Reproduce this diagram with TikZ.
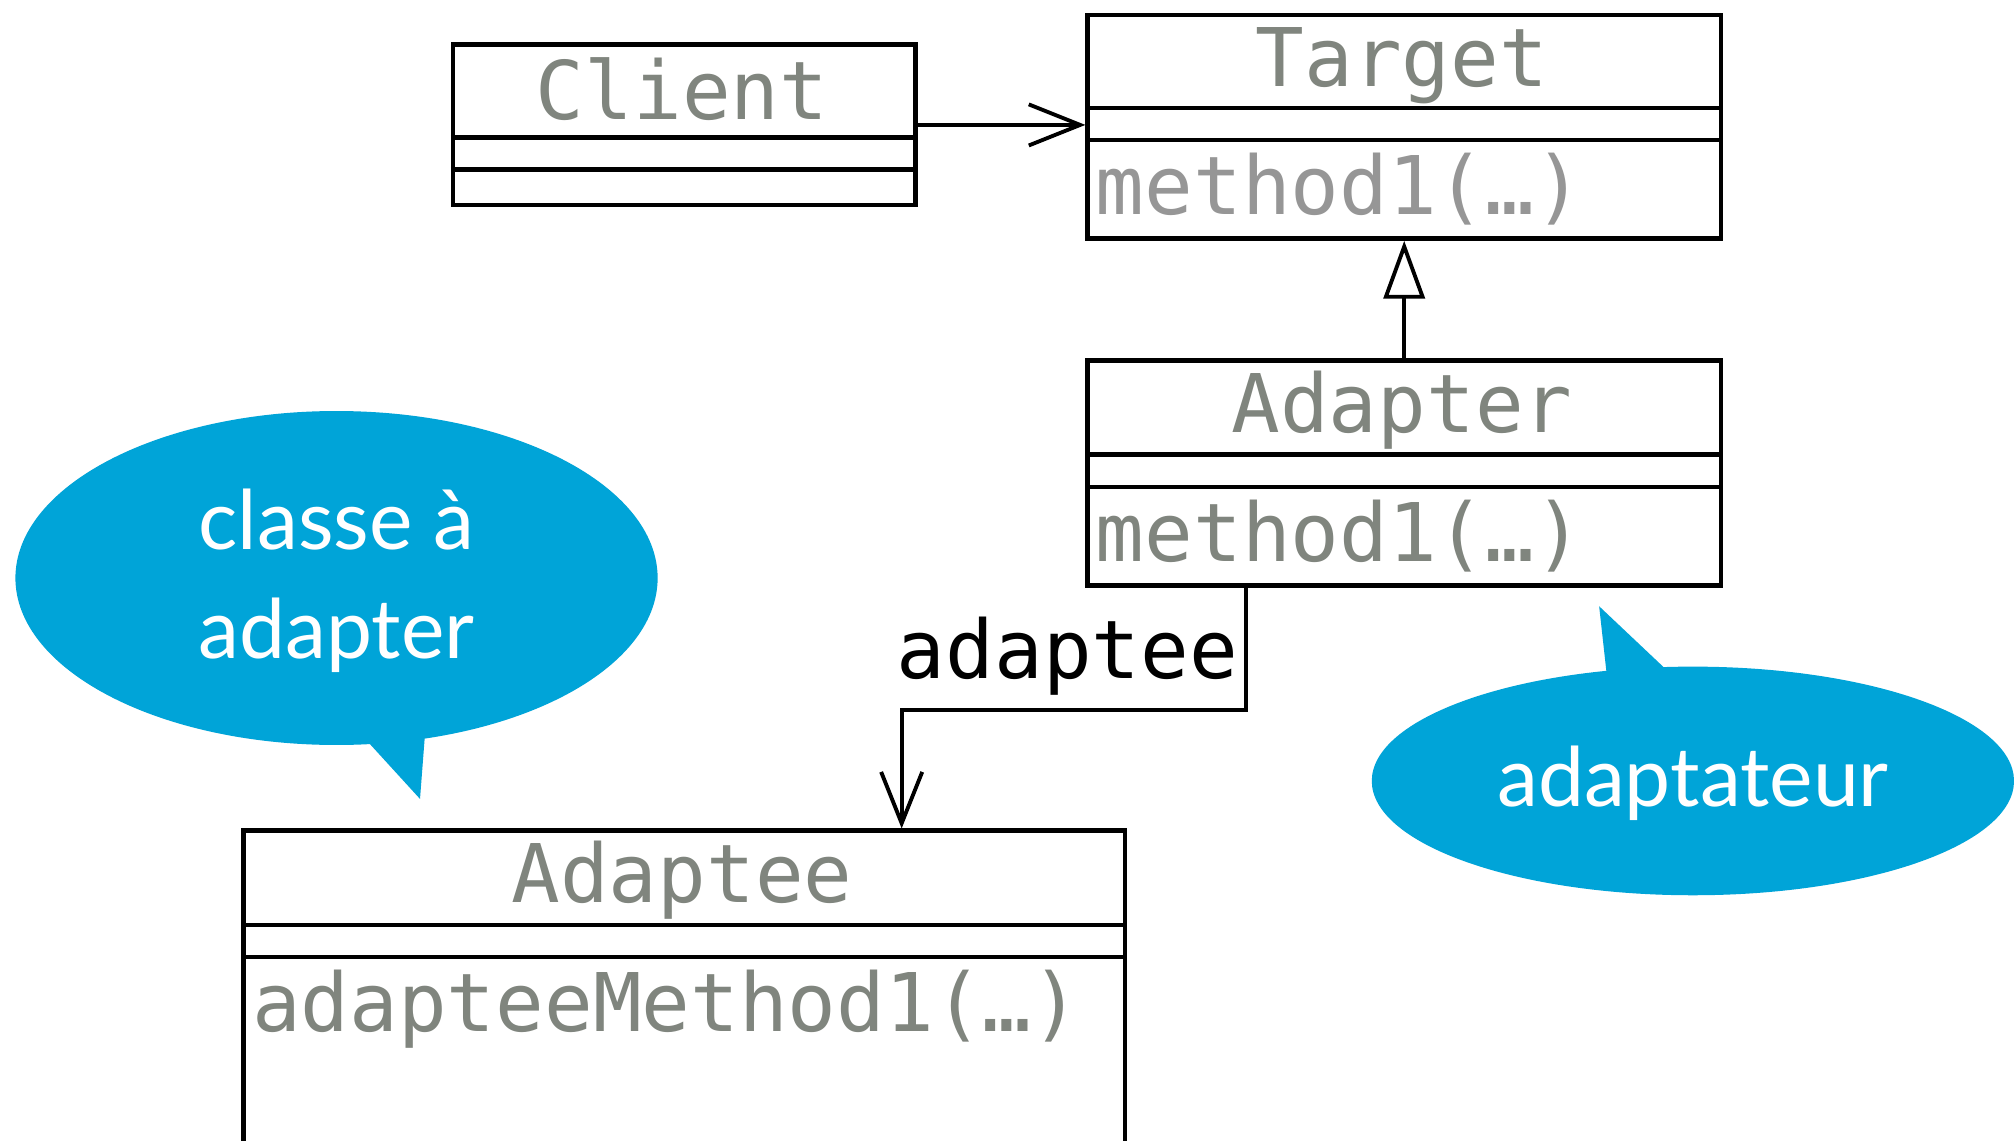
\documentclass[tikz,border=0pt]{standalone}
\usepackage{fontspec}
\newfontfamily\umlmono{DejaVu Sans Mono}
\newfontfamily\callfont{Lato}
\usetikzlibrary{arrows.meta,shapes.geometric}
\definecolor{callblue}{RGB}{0,164,216}
\definecolor{namegray}{RGB}{128,133,126}
\definecolor{methgray}{RGB}{150,150,150}
\begin{document}
\begin{tikzpicture}[x=1pt,y=-1pt,
  umlbox/.style={draw, line width=3.5pt, rectangle, inner sep=0pt, anchor=north west},
  sepline/.style={line width=3.5pt},
  mono/.style={font=\umlmono\fontsize{63}{70}\selectfont, inner sep=0pt},
  classname/.style={mono, text=namegray, anchor=base},
  methname/.style={mono, text=namegray, anchor=base west},
  assoc/.style={line width=3pt, -{Straight Barb[length=40pt, width=32pt, line width=3pt]}},
  gen/.style={line width=3pt, -{Triangle[open, length=45pt, width=32pt, line width=3pt, fill=white]}},
  bubble/.style={ellipse, fill=callblue, inner sep=0pt},
  calltext/.style={font=\callfont\fontsize{64}{70}\selectfont, text=white, inner sep=0pt, anchor=base}
]
\clip (0,0) rectangle (1568,888);
\fill[white] (0,0) rectangle (1568,888);

% Client
\node[umlbox, minimum width=360pt, minimum height=125pt] (client) at (351,33) {};
\draw[sepline] ([yshift=-74pt]client.north west) -- ([yshift=-74pt]client.north east);
\draw[sepline] ([yshift=-99pt]client.north west) -- ([yshift=-99pt]client.north east);
\node[classname] (clientname) at (531,93) {Client};

% Target
\node[umlbox, minimum width=493pt, minimum height=174pt] (target) at (845,10) {};
\draw[sepline] ([yshift=-74pt]target.north west) -- ([yshift=-74pt]target.north east);
\draw[sepline] ([yshift=-99pt]target.north west) -- ([yshift=-99pt]target.north east);
\node[classname] (targetname) at (1091.5,67) {Target};
\node[methname, text=methgray] (targetmeth) at (853,167) {method1(…)};

% Adapter
\node[umlbox, minimum width=493pt, minimum height=175pt] (adapter) at (845,279) {};
\draw[sepline] ([yshift=-75pt]adapter.north west) -- ([yshift=-75pt]adapter.north east);
\draw[sepline] ([yshift=-100pt]adapter.north west) -- ([yshift=-100pt]adapter.north east);
\node[classname] (adaptername) at (1091.5,337) {Adapter};
\node[methname] (adaptermeth) at (853,437) {method1(…)};

% Adaptee
\node[umlbox, minimum width=686pt, minimum height=300pt] (adaptee) at (188,645) {};
\draw[sepline] ([yshift=-75pt]adaptee.north west) -- ([yshift=-75pt]adaptee.north east);
\draw[sepline] ([yshift=-100pt]adaptee.north west) -- ([yshift=-100pt]adaptee.north east);
\node[classname] (adapteename) at (531,703) {Adaptee};
\node[methname] (adapteemeth) at (196,803) {adapteeMethod1(…)};

% connectors
\draw[assoc] (client.east) -- (client.east -| target.west);
\draw[gen] (adapter.north) -- (target.south);
\draw[assoc] ([xshift=125pt]adapter.south west) -- ++(0,95) -| ([xshift=514pt]adaptee.north west);
\node[mono, anchor=base east] (assoclabel) at (964,528) {adaptee};

% callouts
\node[bubble, minimum width=500pt, minimum height=260pt] (bubbleA) at (262,450) {};
\fill[callblue] (285,576) -- (327,622) -- (331,570) -- cycle;
\node[calltext] (bubbleAl1) at (262,428) {classe à};
\node[calltext] (bubbleAl2) at (262,513) {adapter};

\node[bubble, minimum width=500pt, minimum height=178pt] (bubbleB) at (1318,608) {};
\fill[callblue] (1251,526) -- (1245,472) -- (1299,523) -- cycle;
\node[calltext] (bubbleBl1) at (1318,628) {adaptateur};
\end{tikzpicture}
\end{document}
